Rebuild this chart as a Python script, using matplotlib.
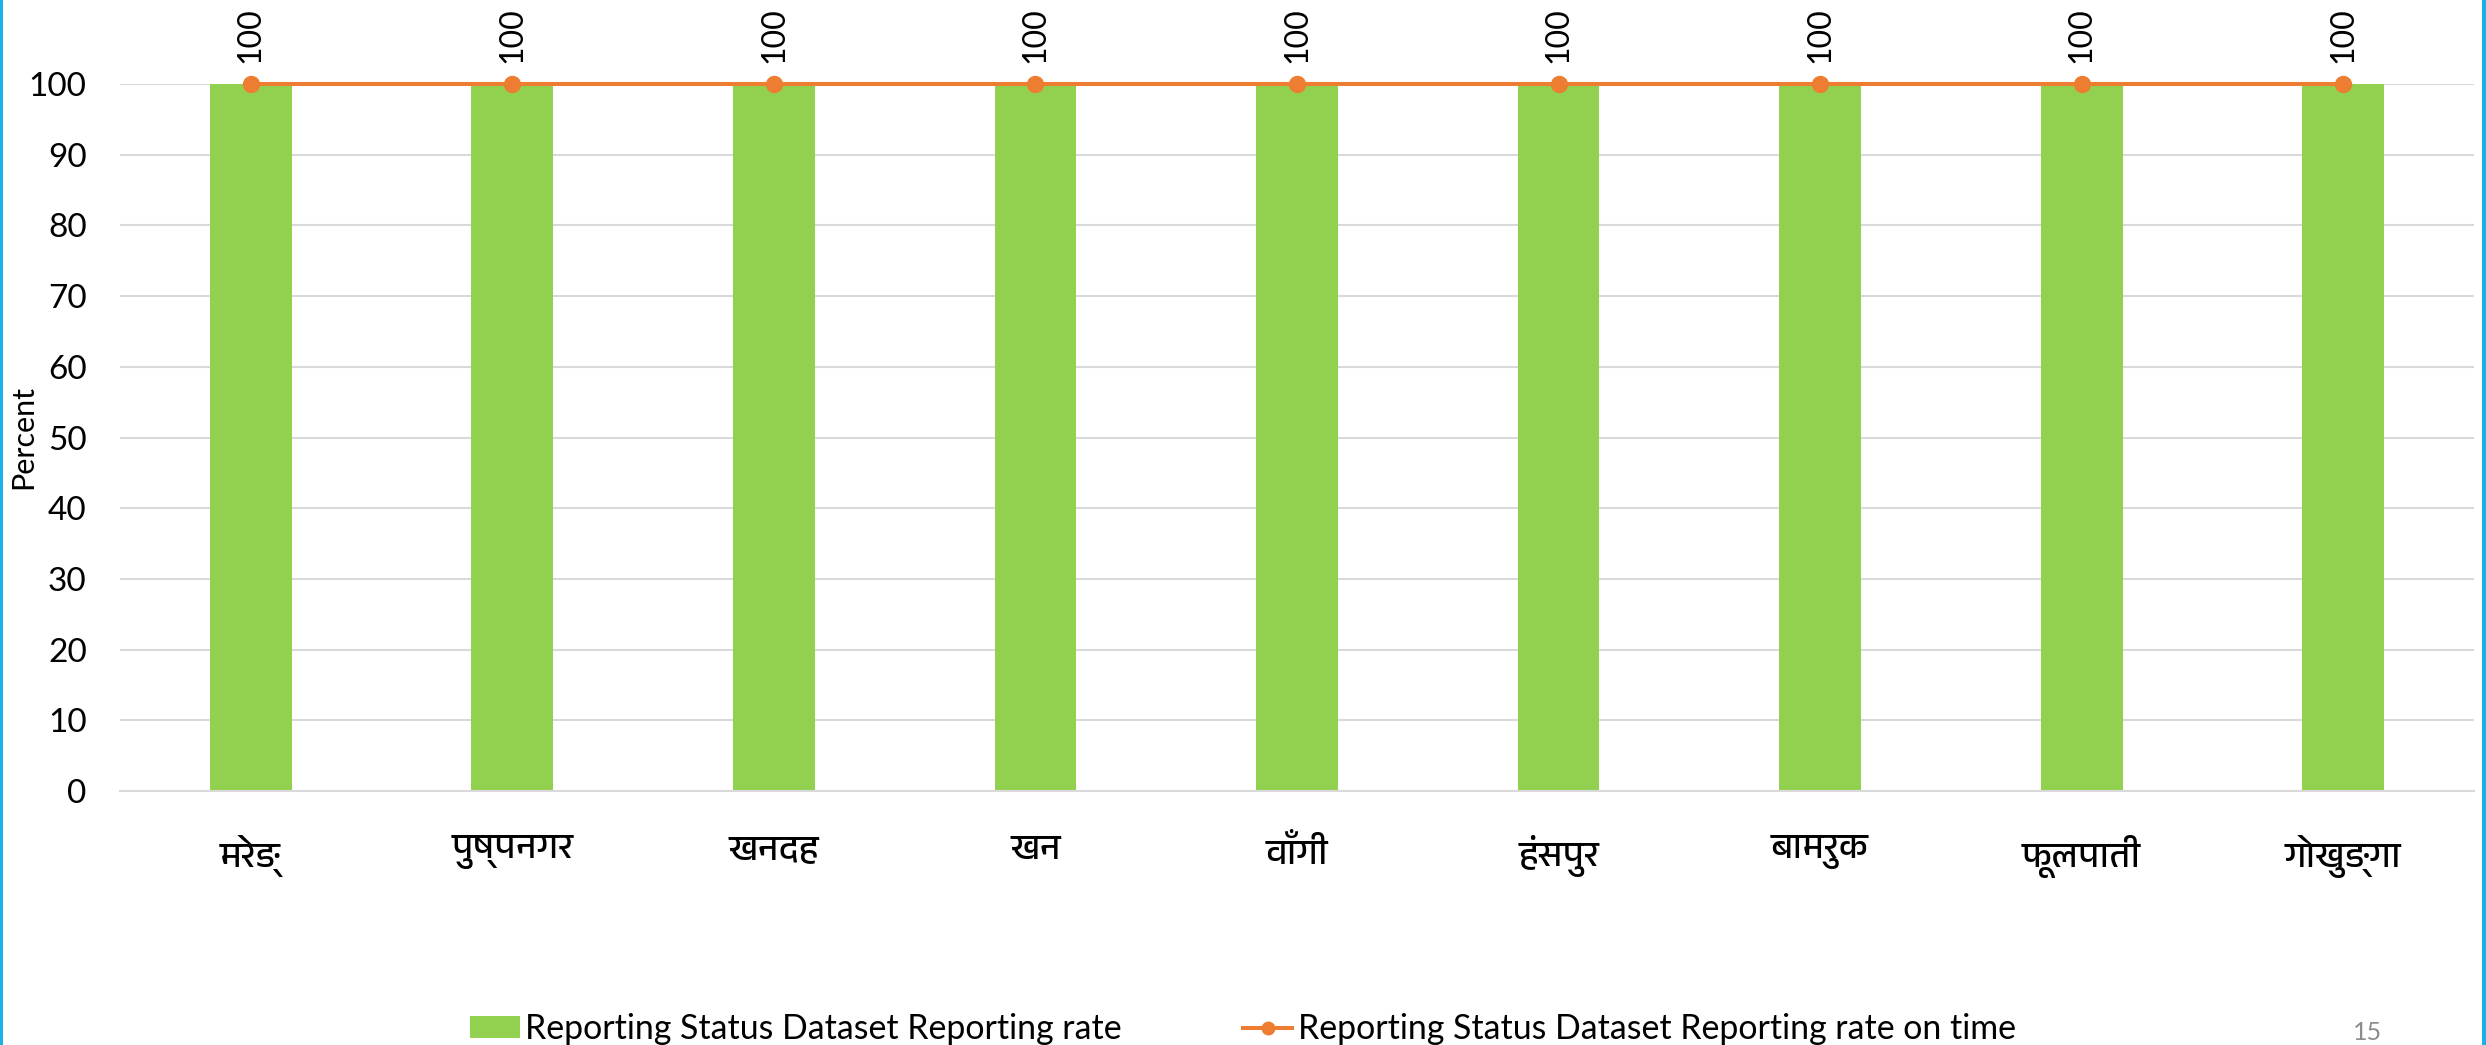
import matplotlib
matplotlib.use("Agg")
import matplotlib.pyplot as plt
from matplotlib import font_manager as fm
from matplotlib.ft2font import FT2Font
from matplotlib.patches import Patch, Rectangle
from matplotlib.lines import Line2D

# ---------------- data ----------------
categories = ["मरेङ्", "पुष्पनगर", "खनदह", "खन", "वाँगी", "हंसपुर", "बामरुक", "फूलपाती", "गोखुङ्गा"]
reporting_rate = [100, 100, 100, 100, 100, 100, 100, 100, 100]
reporting_rate_on_time = [100, 100, 100, 100, 100, 100, 100, 100, 100]
yticks = [0, 10, 20, 30, 40, 50, 60, 70, 80, 90, 100]
bar_label = "Reporting Status Dataset Reporting rate"
line_label = "Reporting Status Dataset Reporting rate on time"
y_title = "Percent"
page_number = "15"

GREEN = "#92D050"
ORANGE = "#ED7D31"
GRID = "#D9D9D9"
BLUE = "#1AB0E8"

LATIN = "Lato"


def find_font_with(ch):
    best = None
    for f in fm.fontManager.ttflist:
        try:
            ft = FT2Font(f.fname)
            if ft.get_char_index(ord(ch)):
                if "Devanagari" in f.name or "devanagari" in f.fname.lower():
                    return f.name
                if best is None:
                    best = f.name
        except Exception:
            pass
    return best


deva = find_font_with("क")
deva_family = [deva, LATIN, "DejaVu Sans"] if deva else [LATIN, "DejaVu Sans"]

plt.rcParams["font.family"] = [LATIN, "DejaVu Sans"]

W, H = 2486, 1045
fig = plt.figure(figsize=(W / 100, H / 100), dpi=100)
fig.patch.set_facecolor("white")

ax_l, ax_r, ax_b, ax_t = 120 / W, 2474 / W, 1 - 791 / H, 1 - 84 / H
ax = fig.add_axes([ax_l, ax_b, ax_r - ax_l, ax_t - ax_b])

x = list(range(len(categories)))
ax.bar(x, reporting_rate, width=0.313, color=GREEN, zorder=2, label=bar_label)
ax.plot(x, reporting_rate_on_time, color=ORANGE, lw=2.9, marker="o", ms=11.5,
        zorder=4, clip_on=False, label=line_label)

for xi, v in zip(x, reporting_rate_on_time):
    ax.annotate(f"{v:g}", (xi, v), xytext=(0, 15), textcoords="offset points",
                rotation=90, ha="center", va="bottom", fontsize=23,
                family=[LATIN, "DejaVu Sans"], color="black", annotation_clip=False)

ax.set_xlim(-0.5, len(categories) - 0.5)
ax.set_ylim(0, 100)
ax.set_yticks(yticks)
ax.set_yticklabels([str(t) for t in yticks], fontsize=24)
ax.set_xticks(x)
ax.set_xticklabels(categories, fontsize=26, family=deva_family)
ax.tick_params(axis="y", length=0, pad=24)
ax.tick_params(axis="x", length=0, pad=32)

ax.grid(axis="y", color=GRID, lw=1.5, zorder=0)
ax.set_axisbelow(True)
for s in ["top", "right", "left"]:
    ax.spines[s].set_visible(False)
ax.spines["bottom"].set_color(GRID)
ax.spines["bottom"].set_linewidth(1.5)

fig.text(23 / W, 1 - 437 / H, y_title, rotation=90, ha="center", va="center",
         fontsize=22, family=[LATIN, "DejaVu Sans"])

handles = [Patch(facecolor=GREEN, edgecolor="none"),
           Line2D([], [], color=ORANGE, lw=2.9, marker="o", ms=9)]
fig.legend(handles, [bar_label, line_label], loc="center",
           bbox_to_anchor=(1243 / W, 1 - 1029 / H), ncol=2, frameon=False,
           fontsize=24.4, handlelength=1.45, handleheight=0.62, handletextpad=0.15,
           columnspacing=3.6, borderpad=0, borderaxespad=0)

fig.text(2368 / W, 1 - 1033 / H, page_number, ha="center", va="center",
         fontsize=18, color="#8C8C8C", family=[LATIN, "DejaVu Sans"])

fig.add_artist(Rectangle((0, 0), 3 / W, 1, transform=fig.transFigure,
                         facecolor=BLUE, edgecolor="none"))
fig.add_artist(Rectangle((1 - 4 / W, 0), 4 / W, 1, transform=fig.transFigure,
                         facecolor=BLUE, edgecolor="none"))

fig.savefig("out.png", dpi=100, facecolor="white")
